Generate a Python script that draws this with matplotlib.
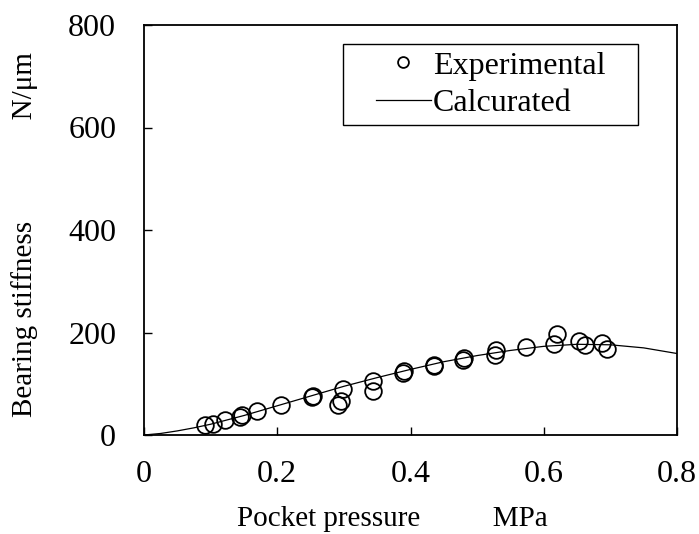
import matplotlib
matplotlib.use("Agg")
import matplotlib.pyplot as plt
from matplotlib.patches import Rectangle

plt.rcParams['font.family'] = ['Liberation Serif', 'DejaVu Serif']
plt.rcParams['mathtext.fontset'] = 'stix'

# Experimental data (pocket pressure MPa, stiffness N/um)
exp_x = [0.092, 0.103, 0.122, 0.144, 0.147, 0.169, 0.205, 0.252, 0.254,
         0.291, 0.295, 0.298, 0.343, 0.343, 0.389, 0.390, 0.435, 0.436,
         0.479, 0.481, 0.527, 0.528, 0.574, 0.616, 0.620, 0.653, 0.662,
         0.688, 0.695]
exp_y = [19, 22, 30, 36, 39, 47, 59, 74, 77,
         59, 66, 89, 85, 105, 121, 125, 134, 136,
         147, 150, 157, 165, 171, 177, 198, 184, 176,
         180, 168]

# Calculated curve
calc_x = [0.0, 0.025, 0.05, 0.075, 0.1, 0.15, 0.2, 0.25, 0.3, 0.35, 0.4,
          0.45, 0.5, 0.55, 0.6, 0.65, 0.7, 0.75, 0.8]
calc_y = [0, 3, 8, 14, 21, 38, 57, 76, 95, 112, 128,
          143, 155, 165, 173, 177, 176, 170, 159]

W, H = 699, 534
fig = plt.figure(figsize=(W/100, H/100), dpi=100)
ax = fig.add_axes([144/W, 1-435/H, (677-144)/W, (435-25)/H])

ax.plot(exp_x, exp_y, linestyle='none', marker='o', markersize=12,
        markerfacecolor='none', markeredgecolor='black', markeredgewidth=1.3,
        label='Experimental', clip_on=False)
ax.plot(calc_x, calc_y, color='black', linewidth=0.9, label='Calcurated')

ax.set_xlim(0, 0.8)
ax.set_ylim(0, 800)
ax.set_xticks([0, 0.2, 0.4, 0.6, 0.8])
ax.set_xticklabels(['0', '0.2', '0.4', '0.6', '0.8'])
ax.set_yticks([0, 200, 400, 600, 800])
ax.tick_params(direction='in', length=6, width=1, labelsize=23)
ax.tick_params(axis='x', pad=18)
ax.tick_params(axis='y', pad=20)
for s in ax.spines.values():
    s.set_linewidth(1.3)

ax.set_xlabel('Pocket pressure          MPa', fontsize=21, labelpad=12)
ax.xaxis.label.set_x(0.466)
ax.set_ylabel('Bearing stiffness              N/μm', fontsize=21, labelpad=22)
ax.yaxis.label.set_y(0.49)

# legend (frame drawn separately so the entries sit centred in a wide box)
leg = ax.legend(loc='center', bbox_to_anchor=((343+638)/2/W, 1-(44+125)/2/H),
                bbox_transform=fig.transFigure, fontsize=23, markerscale=0.65,
                frameon=False, handlelength=1.75, handletextpad=0.05,
                borderpad=0, labelspacing=0.25, borderaxespad=0)
fig.patches.append(Rectangle((343/W, 1-125/H), 295/W, 81/H,
                             transform=fig.transFigure, fill=False,
                             edgecolor='black', linewidth=1.0, zorder=5))

fig.savefig('out.png', dpi=100)
